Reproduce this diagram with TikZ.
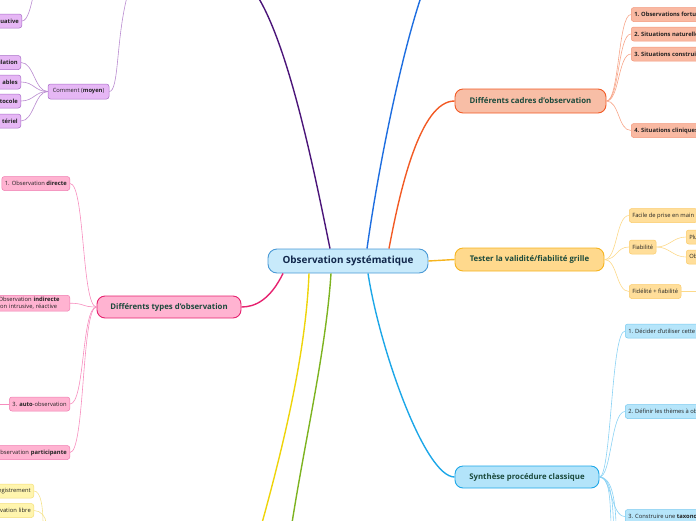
\documentclass[tikz,border=0pt]{standalone}
\usepackage{fontspec}
\setmainfont{Open Sans}
\definecolor{ctxt}{HTML}{12284C}
\definecolor{cfill}{HTML}{C8EAFB}
\definecolor{cborder}{HTML}{4A9AD6}
\definecolor{maintxt}{HTML}{1B4A3C}
\definecolor{leaftxt}{HTML}{222222}
\definecolor{purp}{HTML}{4B1579}
\definecolor{topblue}{HTML}{1E6EE0}
\definecolor{orline}{HTML}{F25A24}
\definecolor{orfill}{HTML}{F8BEA6}
\definecolor{orleaf}{HTML}{F9B9A2}
\definecolor{orleafb}{HTML}{F4967A}
\definecolor{ortwig}{HTML}{F7A68A}
\definecolor{yoline}{HTML}{F6B41E}
\definecolor{yofill}{HTML}{FFD98D}
\definecolor{yoleaf}{HTML}{FFDE9A}
\definecolor{yoleafb}{HTML}{FBCB68}
\definecolor{yotwig}{HTML}{FCD98A}
\definecolor{sbline}{HTML}{1DA7E8}
\definecolor{sbfill}{HTML}{B3E4FA}
\definecolor{sbleaf}{HTML}{B6E5FA}
\definecolor{sbleafb}{HTML}{76C9F0}
\definecolor{sbtwig}{HTML}{8AD2F4}
\definecolor{pkline}{HTML}{E6226F}
\definecolor{pkfill}{HTML}{FFB3D1}
\definecolor{pkleafb}{HTML}{F07CB0}
\definecolor{pktwig}{HTML}{F78DBE}
\definecolor{plfill}{HTML}{E6B7F5}
\definecolor{plb}{HTML}{A86DC8}
\definecolor{pltwig}{HTML}{B98BD0}
\definecolor{ylline}{HTML}{EED40A}
\definecolor{ylfill}{HTML}{FFF5AE}
\definecolor{ylb}{HTML}{F4DE78}
\definecolor{yltwig}{HTML}{F5E38E}
\definecolor{grline}{HTML}{7DB320}
\begin{document}
\begin{tikzpicture}[x=1pt,y=-1pt,
  mainbox/.style={draw, rounded corners=8pt, line width=0.9pt,
    font=\fontsize{7.8}{9}\selectfont\bfseries, text=maintxt, inner sep=0pt},
  leaf/.style={draw, rounded corners=2.5pt, line width=0.5pt,
    font=\fontsize{5.8}{6.8}\selectfont, text=leaftxt, inner xsep=3pt,
    inner ysep=0pt, minimum height=14pt},
  cutl/.style={leaf, anchor=east, text width=40pt, align=right},
  branch/.style={line width=1.4pt},
  twig/.style={line width=0.6pt},
  plleaf/.style={leaf, fill=plfill, draw=plb},
  pkleaf/.style={leaf, fill=pkfill, draw=pkleafb},
  orl/.style={leaf, fill=orleaf, draw=orleafb, anchor=west},
  yol/.style={leaf, fill=yoleaf, draw=yoleafb, anchor=west},
  sbl/.style={leaf, fill=sbleaf, draw=sbleafb, anchor=west},
  yll/.style={leaf, fill=ylfill, draw=ylb},
]
\useasboundingbox (0,0) rectangle (696,520);

% free ends
\coordinate (pend) at (258,-3);
\coordinate (bend) at (421,-3);
\coordinate (yend) at (262,523);
\coordinate (gend) at (292,523);
\coordinate (pc) at (127,-3);
\coordinate (p1c) at (33,-3);
\coordinate (t3l) at (-3,404);
\coordinate (fidr) at (699,291.5);
\coordinate (sd1) at (611,523);
\coordinate (sd2) at (613.5,523);
\coordinate (sd3) at (616,523);
\coordinate (yd1) at (43,523);
\coordinate (yd2) at (46,523);

% main nodes
\node[draw=cborder, fill=cfill, rounded corners=9pt, line width=0.9pt,
  minimum width=160pt, minimum height=24pt, inner sep=0pt,
  font=\fontsize{9.9}{11}\selectfont\bfseries, text=ctxt] (c) at (348,261) {Observation systématique};
\node[mainbox, draw=orline, fill=orfill, minimum width=151pt, minimum height=24pt] (cad) at (530.5,101) {Différents cadres d'observation};
\node[mainbox, draw=yoline, fill=yofill, minimum width=149pt, minimum height=23pt] (tes) at (529.5,259.5) {Tester la validité/fiabilité grille};
\node[mainbox, draw=sbline, fill=sbfill, minimum width=144pt, minimum height=22pt] (syn) at (527,477) {Synthèse procédure classique};
\node[mainbox, draw=pkline, fill=pkfill, minimum width=144pt, minimum height=22pt] (typ) at (169,307) {Différents types d'observation};

% main branches
\draw[branch, purp] ([xshift=-18pt]c.north) .. controls (315,175) and (290,50) .. (pend);
\draw[branch, topblue] ([xshift=19pt]c.north) .. controls (378,170) and (400,60) .. (bend);
\draw[branch, orline] ([xshift=41pt]c.north) .. controls (400,190) and (420,101) .. (cad.west);
\draw[branch, yoline] (c.east) -- (tes.west);
\draw[branch, sbline] ([xshift=20pt]c.south) .. controls (380,350) and (425,477) .. (syn.west);
\draw[branch, pkline] ([xshift=-65pt]c.south) .. controls (270,300) and (255,307) .. (typ.east);
\draw[branch, ylline] ([xshift=-39pt]c.south) .. controls (306,350) and (285,440) .. (yend);
\draw[branch, grline] ([xshift=-17pt]c.south) .. controls (326,350) and (305,440) .. (gend);

% purple subtree
\node[plleaf, minimum width=61pt, minimum height=15pt] (com) at (78.5,91.5) {Comment (\textbf{moyen})};
\node[plleaf, cutl] (p1) at (22,21) {\textbf{uative}};
\node[plleaf, cutl] (p2) at (21,62.5) {\textbf{ilation}};
\node[plleaf, cutl] (p3) at (21,82) {\textbf{ables}};
\node[plleaf, cutl] (p4) at (21,101) {\textbf{tocole}};
\node[plleaf, cutl] (p5) at (21,121) {\textbf{tériel}};
\draw[twig, pltwig] (com.east) .. controls (119,91.5) and (116,40) .. (pc);
\draw[twig, pltwig] (p1.east) .. controls +(6,0) and +(-2,8) .. (p1c);
\foreach \n in {p2,p3,p4,p5}
  \draw[twig, pltwig] (com.west) .. controls +(-13,0) and +(13,0) .. (\n.east);

% pink subtree
\node[pkleaf, anchor=east] (t1) at (70,183.5) {1. Observation \textbf{directe}};
\node[pkleaf, anchor=north east, text width=76pt, align=left, inner ysep=2pt] (t2) at (70,295)
  {2. Observation \textbf{indirecte}\\\hspace*{8pt}ion intrusive, réactive};
\node[pkleaf, anchor=east] (t3) at (70,404) {3. \textbf{auto}-observation};
\node[pkleaf, anchor=east, text width=84pt, align=right] (t4) at (70,452.5) {4. Observation \textbf{participante}};
\foreach \n in {t1,t2,t3,t4}
  \draw[twig, pktwig] (typ.west) .. controls +(-15,0) and +(15,0) .. (\n.east);
\draw[twig, pktwig] (t3.west) -- (t3l);

% yellow subtree
\node[yll, cutl, text width=60pt] (y1) at (34,491) {Enregistrement};
\node[yll, cutl, text width=60pt] (y2) at (34,510.5) {Observation libre};
\draw[twig, yltwig] (y1.east) .. controls +(7,0) and +(0,-15) .. (yd1);
\draw[twig, yltwig] (y2.east) .. controls +(7,0) and +(0,-6) .. (yd2);

% cadres subtree
\node[orl] (k1) at (631,14.5) {\textbf{1. Observations fortuites}};
\node[orl] (k2) at (631,34) {\textbf{2. Situations naturelles}};
\node[orl] (k3) at (631,54) {\textbf{3. Situations construites}};
\node[orl] (k4) at (631,130.5) {\textbf{4. Situations cliniques}};
\foreach \n in {k1,k2,k3,k4}
  \draw[twig, ortwig] (cad.east) .. controls +(13,0) and +(-13,0) .. (\n.west);

% tester subtree
\node[yol] (f1) at (629,215.5) {Facile de prise en main};
\node[yol] (f2) at (629,247) {Fiabilité};
\node[yol] (f3) at (629,291.5) {Fidélité + fiabilité};
\node[yol] (g1) at (686,237) {Plusieurs observateurs};
\node[yol] (g2) at (686,257) {Observateur unique};
\foreach \n in {f1,f2,f3}
  \draw[twig, yotwig] (tes.east) .. controls +(13,0) and +(-13,0) .. (\n.west);
\foreach \n in {g1,g2}
  \draw[twig, yotwig] (f2.east) .. controls +(13,0) and +(-13,0) .. (\n.west);
\draw[twig, yotwig] (f3.east) -- (fidr);

% synthese subtree
\node[sbl] (s1) at (625,331) {1. Décider d'utiliser cette méthode};
\node[sbl] (s2) at (625,411.5) {2. Définir les thèmes à observer};
\node[sbl] (s3) at (625,516.5) {3. Construire une \textbf{taxonomie}};
\foreach \n in {s1,s2,s3}
  \draw[twig, sbtwig] (syn.east) .. controls +(12,0) and +(-14,0) .. (\n.west);
\draw[twig, sbtwig] (syn.east) .. controls +(10,0) and +(-1,-25) .. (sd1);
\draw[twig, sbtwig] (syn.east) .. controls +(11,0) and +(-1,-25) .. (sd2);
\draw[twig, sbtwig] (syn.east) .. controls +(12,0) and +(-1,-25) .. (sd3);
\end{tikzpicture}
\end{document}
